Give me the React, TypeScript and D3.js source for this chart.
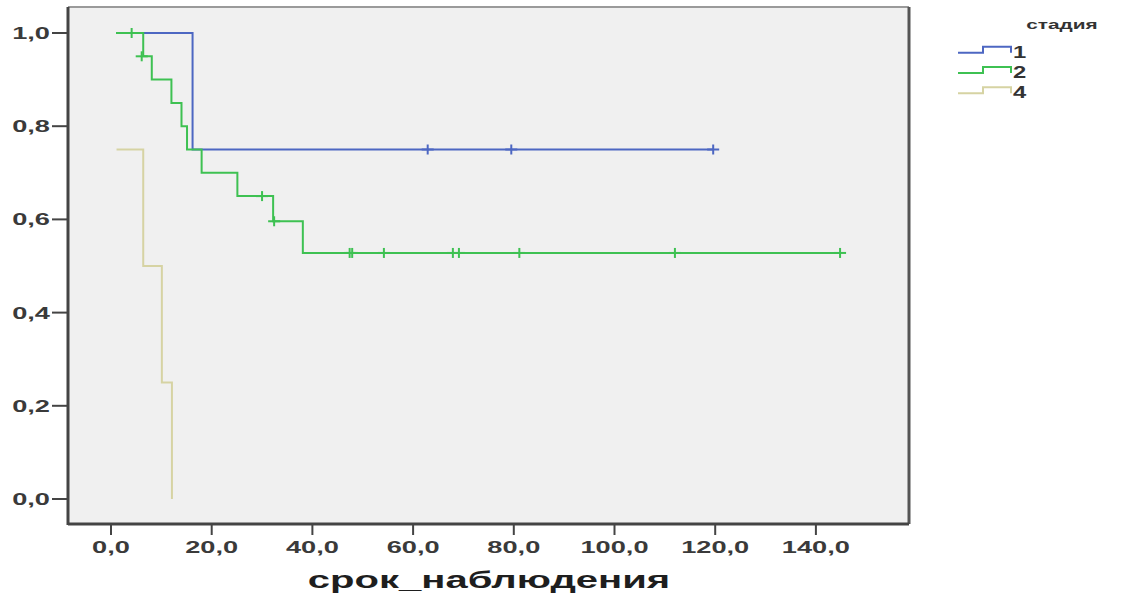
import React from "react";
import * as d3 from "d3";

// ---- data ----
const xTicks = [0, 20, 40, 60, 80, 100, 120, 140];
const yTicks = [0, 0.2, 0.4, 0.6, 0.8, 1.0];
const groupNames = ["1", "2", "4"];
const groupColors = ["#4d67c2", "#3ec152", "#d6d3a3"];

// group "1"
const g1Start = [1, 1.0];
const g1Events = [[16.2, 0.75]];
const g1Censor = [[62.9, 0.75], [79.5, 0.75], [119.6, 0.75]];
const g1End = 119.6;

// group "2"
const g2Start = [1, 1.0];
const g2Events = [
  [6.4, 0.95], [8.1, 0.9], [12.0, 0.85], [14.0, 0.8], [15.1, 0.75],
  [18.0, 0.7], [25.1, 0.65], [32.2, 0.596], [38.1, 0.528],
];
const g2Censor = [
  [4.1, 1.0], [6.1, 0.95], [30.0, 0.65], [32.4, 0.596],
  [47.4, 0.528], [47.9, 0.528], [54.2, 0.528], [67.9, 0.528], [69.1, 0.528],
  [81.1, 0.528], [112.0, 0.528], [144.8, 0.528],
];
const g2End = 144.8;

// group "4"
const g4Start = [1.1, 0.75];
const g4Events = [[6.4, 0.5], [10.1, 0.25], [12.1, 0.0]];
const g4Censor: number[][] = [];
const g4End = 12.1;

const groups = [
  { start: g1Start, events: g1Events, censor: g1Censor, end: g1End },
  { start: g2Start, events: g2Events, censor: g2Censor, end: g2End },
  { start: g4Start, events: g4Events, censor: g4Censor, end: g4End },
];

const SX = 1.6; // horizontal stretch of the original picture
const FONT = "'Liberation Sans', Arial, sans-serif";

function SText({ x, y, anchor = "start", size, weight = "bold", fill = "#3a3a3a", sx = SX, children }: any) {
  return (
    <g transform={`translate(${x},${y}) scale(${sx},1)`}>
      <text textAnchor={anchor} fontSize={size} fontWeight={weight} fill={fill} fontFamily={FONT}>
        {children}
      </text>
    </g>
  );
}

export default function App() {
  const W = 1137, H = 596;
  const frame = { l: 68, r: 909, t: 7, b: 524 };
  const x = d3.scaleLinear().domain([0, 140]).range([111, 815.9]);
  const y = d3.scaleLinear().domain([0, 1]).range([499, 33]);
  const line = d3
    .line<number[]>()
    .x((d) => x(d[0]))
    .y((d) => y(d[1]))
    .curve(d3.curveStepAfter);

  const paths = groups.map((g) => {
    const last = g.events.length ? g.events[g.events.length - 1][1] : g.start[1];
    const pts = [g.start, ...g.events, [g.end, last]];
    return line(pts as number[][]) || "";
  });

  return (
    <svg width={W} height={H} style={{ position: "absolute", left: 0, top: 0, background: "#fff" }}>
      <rect x={frame.l} y={frame.t} width={frame.r - frame.l} height={frame.b - frame.t} fill="#f0f0f0" />
      {/* frame */}
      <line x1={frame.l} x2={frame.r} y1={frame.t} y2={frame.t} stroke="#9a9a9a" strokeWidth={2} />
      <line x1={frame.r} x2={frame.r} y1={frame.t} y2={frame.b} stroke="#555" strokeWidth={3} />
      <line x1={frame.l} x2={frame.r} y1={frame.b} y2={frame.b} stroke="#444" strokeWidth={3} />
      <line x1={frame.l} x2={frame.l} y1={frame.t} y2={frame.b + 1} stroke="#444" strokeWidth={3} />

      {/* y axis */}
      {yTicks.map((v) => (
        <g key={"y" + v}>
          <line x1={52} x2={frame.l} y1={y(v)} y2={y(v)} stroke="#444" strokeWidth={2} />
          <SText x={50} y={y(v) + 6} anchor="end" size={17}>
            {v.toFixed(1).replace(".", ",")}
          </SText>
        </g>
      ))}

      {/* x axis */}
      {xTicks.map((v) => (
        <g key={"x" + v}>
          <line x1={x(v)} x2={x(v)} y1={frame.b} y2={535} stroke="#444" strokeWidth={2} />
          <SText x={x(v)} y={553} anchor="middle" size={17}>
            {v.toFixed(1).replace(".", ",")}
          </SText>
        </g>
      ))}
      <SText x={489} y={588} anchor="middle" size={23} sx={1.74} fill="#1e1e1e">
        срок_наблюдения
      </SText>

      {/* curves */}
      {paths.map((p, i) => (
        <path key={"p" + i} d={p} fill="none" stroke={groupColors[i]} strokeWidth={2} />
      ))}
      {groups.map((g, i) =>
        g.censor.map((c, j) => (
          <g key={`c${i}-${j}`} stroke={groupColors[i]} strokeWidth={2}>
            <line x1={x(c[0]) - 6} x2={x(c[0]) + 6} y1={y(c[1])} y2={y(c[1])} />
            <line x1={x(c[0])} x2={x(c[0])} y1={y(c[1]) - 5} y2={y(c[1]) + 5} />
          </g>
        ))
      )}

      {/* legend */}
      <SText x={1062} y={29} anchor="middle" size={13} fill="#333">
        стадия
      </SText>
      {groupNames.map((n, i) => {
        const yl = 52.7 + i * 20.3;
        const yh = yl - 6;
        const d = `M958,${yl} H983 V${yh} H1011 V${yl}`;
        return (
          <g key={"l" + n}>
            <path d={d} fill="none" stroke={groupColors[i]} strokeWidth={2} />
            <SText x={1013} y={yl + 5} size={17} sx={1.4} fill="#333">
              {n}
            </SText>
          </g>
        );
      })}
    </svg>
  );
}
